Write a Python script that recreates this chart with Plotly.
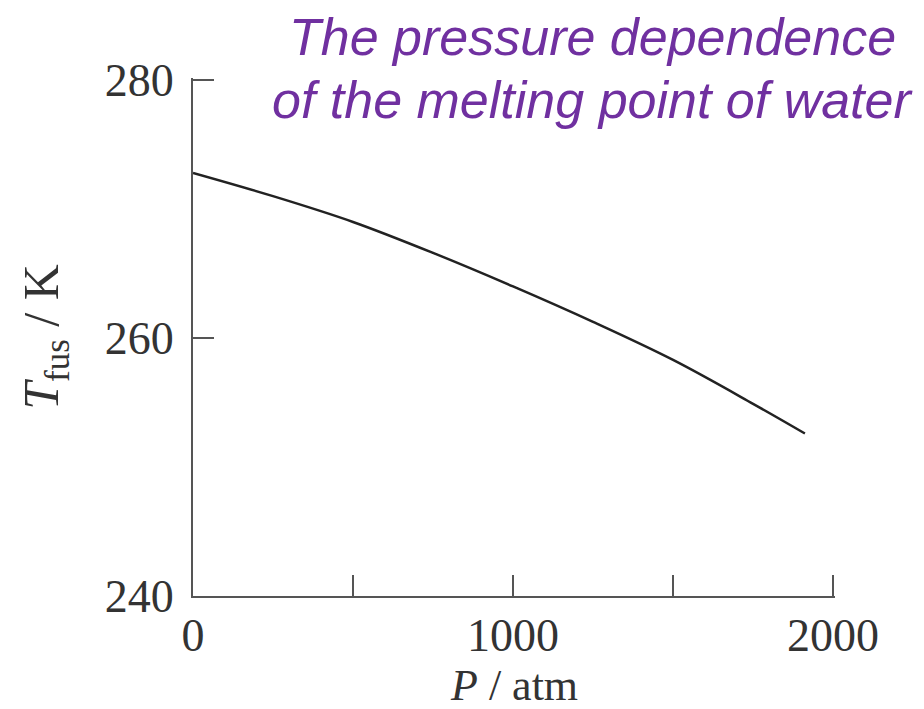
import plotly.graph_objects as go

# Data
pressure_atm = [0, 250, 500, 750, 1000, 1250, 1500, 1750, 1912]
t_fus_K = [272.8, 271.0, 269.0, 266.6, 264.0, 261.25, 258.3, 254.9, 252.6]

x_ticks = [0, 500, 1000, 1500, 2000]
x_tick_labels = ["0", "", "1000", "", "2000"]
y_ticks = [240, 260, 280]
y_tick_labels = ["240", "260", "280"]

x_title = "<i>P</i> / atm"
y_title = "<i>T</i><sub>fus</sub> / K"
title_lines = ["The pressure dependence", "of the melting point of water"]

fig = go.Figure()
fig.add_trace(go.Scatter(
    x=pressure_atm, y=t_fus_K, mode="lines",
    line=dict(color="#222222", width=2.5, shape="spline"),
    showlegend=False, hoverinfo="skip",
))

serif = "Liberation Serif, Times New Roman, serif"
axis_common = dict(
    showgrid=False, zeroline=False, showline=True,
    linecolor="#555555", linewidth=2,
    ticks="inside", ticklen=21, tickwidth=2, tickcolor="#555555",
    tickfont=dict(family=serif, size=46, color="#333333"),
)

fig.update_xaxes(
    range=[0, 2006], tickvals=x_ticks, ticktext=x_tick_labels,
    ticklabelstandoff=-2,
    **axis_common,
)
fig.update_yaxes(
    range=[240, 280.16], tickvals=y_ticks, ticktext=y_tick_labels,
    ticklabelstandoff=8,
    title=dict(text=y_title, font=dict(family=serif, size=50, color="#333333"), standoff=30),
    **axis_common,
)

# x-axis title as an annotation so it sits just above the bottom edge
fig.add_annotation(
    text=x_title, xref="paper", yref="paper", x=0.5, y=-0.172,
    xanchor="center", yanchor="middle", showarrow=False,
    font=dict(family=serif, size=44, color="#333333"),
)

title_font = dict(family="Liberation Sans, Arial, sans-serif", size=52, color="#7030A0")
for line_text, ypos in zip(title_lines, [1.080, 0.958]):
    fig.add_annotation(
        text="<i>" + line_text + "</i>", xref="paper", yref="paper",
        x=0.622, y=ypos, xanchor="center", yanchor="middle",
        showarrow=False, font=title_font,
    )

fig.update_layout(
    width=924, height=709,
    margin=dict(l=185, r=97, t=70, b=121, autoexpand=False),
    plot_bgcolor="white", paper_bgcolor="white",
)

fig.write_html("out.html")
